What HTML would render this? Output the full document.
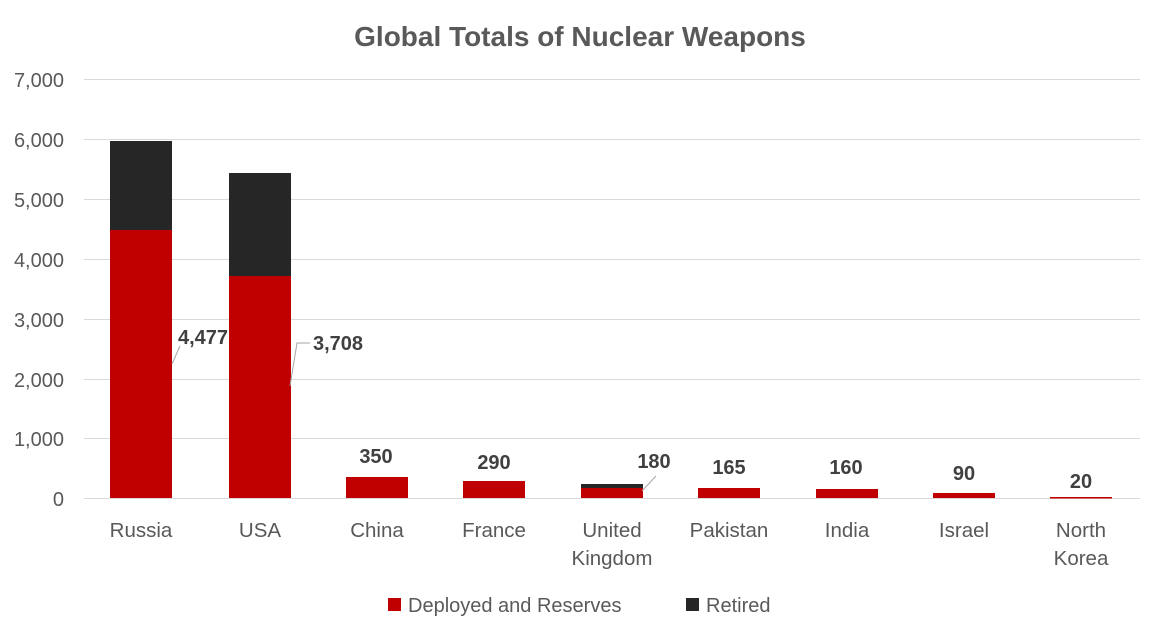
<!DOCTYPE html>
<html><head><meta charset="utf-8"><style>
html,body{margin:0;padding:0;background:#fff}
svg{display:block;font-family:"Liberation Sans",sans-serif}
</style></head><body>
<svg width="1160" height="638" viewBox="0 0 1160 638">
<rect width="1160" height="638" fill="#fff"/>
<text x="580" y="46" text-anchor="middle" font-size="28" font-weight="bold" fill="#595959">Global Totals of Nuclear Weapons</text>
<g stroke="#d9d9d9" stroke-width="1">
<line x1="84" x2="1140" y1="79.5" y2="79.5"/><line x1="84" x2="1140" y1="139.5" y2="139.5"/>
<line x1="84" x2="1140" y1="199.5" y2="199.5"/><line x1="84" x2="1140" y1="259.5" y2="259.5"/>
<line x1="84" x2="1140" y1="319.5" y2="319.5"/><line x1="84" x2="1140" y1="379.5" y2="379.5"/>
<line x1="84" x2="1140" y1="438.5" y2="438.5"/><line x1="84" x2="1140" y1="498.5" y2="498.5"/>
</g>
<g font-size="20" fill="#595959" text-anchor="end">
<text x="64" y="87">7,000</text><text x="64" y="147">6,000</text><text x="64" y="207">5,000</text>
<text x="64" y="267">4,000</text><text x="64" y="327">3,000</text><text x="64" y="387">2,000</text>
<text x="64" y="446">1,000</text><text x="64" y="506">0</text>
</g>
<rect x="110" y="141" width="62" height="90" fill="#262626"/>
<rect x="110" y="230" width="62" height="268" fill="#c00000"/>
<rect x="229" y="173" width="62" height="104" fill="#262626"/>
<rect x="229" y="276" width="62" height="222" fill="#c00000"/>
<rect x="346" y="477" width="62" height="21" fill="#c00000"/>
<rect x="463" y="481" width="62" height="17" fill="#c00000"/>
<rect x="581" y="484" width="62" height="4" fill="#262626"/>
<rect x="581" y="488" width="62" height="10" fill="#c00000"/>
<rect x="698" y="488" width="62" height="10" fill="#c00000"/>
<rect x="816" y="489" width="62" height="9" fill="#c00000"/>
<rect x="933" y="493" width="62" height="5" fill="#c00000"/>
<rect x="1050" y="497" width="62" height="1.5" fill="#c00000"/>
<g stroke="#a6a6a6" fill="none" stroke-width="1">
<polyline points="172,364 180,346"/>
<polyline points="290,386 297,343 310,343"/>
<polyline points="642,491 656,476"/>
</g>
<g font-size="20" font-weight="bold" fill="#404040" text-anchor="middle">
<text x="203" y="344">4,477</text>
<text x="338" y="350">3,708</text>
<text x="376" y="463">350</text>
<text x="494" y="469">290</text>
<text x="654" y="468">180</text>
<text x="729" y="474">165</text>
<text x="846" y="474">160</text>
<text x="964" y="480">90</text>
<text x="1081" y="488">20</text>
</g>
<g font-size="20.5" fill="#595959" text-anchor="middle">
<text x="141" y="537">Russia</text>
<text x="260" y="537">USA</text>
<text x="377" y="537">China</text>
<text x="494" y="537">France</text>
<text x="612" y="537">United</text><text x="612" y="565">Kingdom</text>
<text x="729" y="537">Pakistan</text>
<text x="847" y="537">India</text>
<text x="964" y="537">Israel</text>
<text x="1081" y="537">North</text><text x="1081" y="565">Korea</text>
</g>
<rect x="388" y="598" width="13" height="13" fill="#c00000"/>
<text x="408" y="612" font-size="20" fill="#595959">Deployed and Reserves</text>
<rect x="686" y="598" width="13" height="13" fill="#262626"/>
<text x="706" y="612" font-size="20" fill="#595959">Retired</text>
</svg>
</body></html>
